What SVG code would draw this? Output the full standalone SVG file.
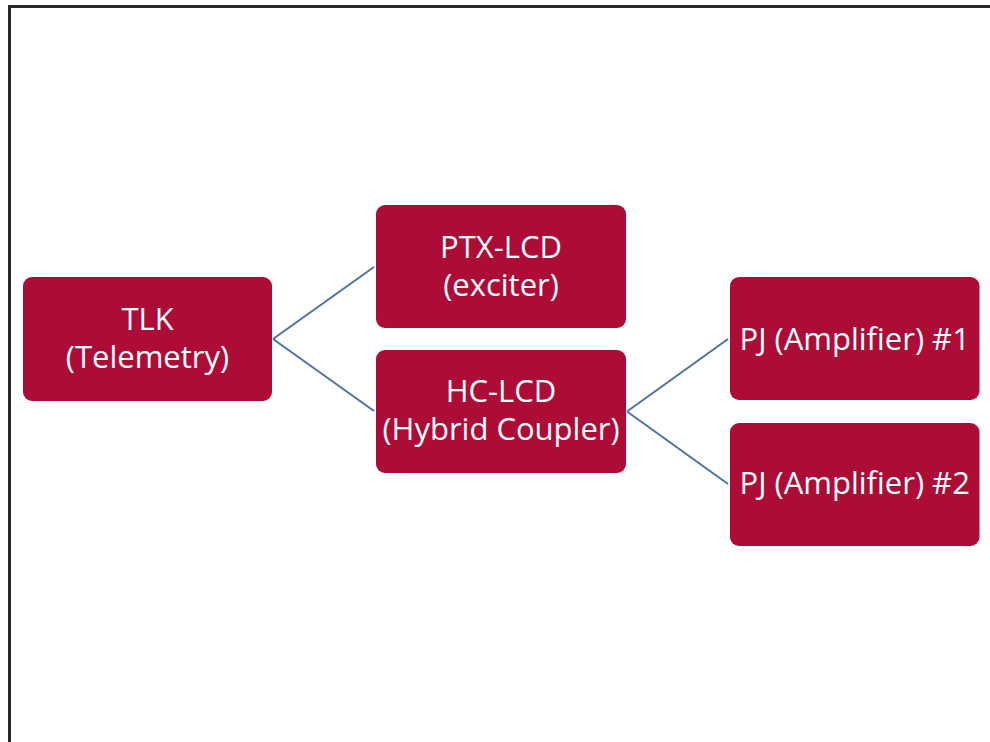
<svg xmlns="http://www.w3.org/2000/svg" width="990" height="742" viewBox="0 0 990 742">
<style>
.node rect{fill:#ad0c36;}
.node text{fill:#ffffff;font-family:"Open Sans","Noto Sans",sans-serif;font-size:31px;text-anchor:middle;}
.conn line{stroke:#4a72a6;stroke-width:2;fill:none;}
.frame{stroke:#2a2627;stroke-width:3;fill:none;}
</style>
<rect x="0" y="0" width="990" height="742" fill="#ffffff"/>
<path class="frame" d="M9.5,742 V6.5 H990"/>
<g id="connectors" class="conn">
<line x1="273" y1="339" x2="374" y2="267"/>
<line x1="273" y1="339" x2="374" y2="411"/>
<line x1="627" y1="411.5" x2="728" y2="339"/>
<line x1="627" y1="411.5" x2="728" y2="484"/>
</g>
<g id="tlk" class="node">
<rect x="23" y="277" width="249" height="124" rx="9"/>
<text x="147.5" y="330">TLK</text>
<text x="147.5" y="368">(Telemetry)</text>
</g>
<g id="ptx" class="node">
<rect x="376" y="205" width="250" height="123" rx="9"/>
<text x="501" y="257.5">PTX-LCD</text>
<text x="501" y="295.5">(exciter)</text>
</g>
<g id="hc" class="node">
<rect x="376" y="350" width="250" height="123" rx="9"/>
<text x="501" y="401.5">HC-LCD</text>
<text x="501" y="440">(Hybrid Coupler)</text>
</g>
<g id="pj1" class="node">
<rect x="730" y="277" width="249.5" height="123" rx="9"/>
<text x="854.7" y="349.5">PJ (Amplifier) #1</text>
</g>
<g id="pj2" class="node">
<rect x="730" y="423" width="249.5" height="123" rx="9"/>
<text x="854.7" y="493.5">PJ (Amplifier) #2</text>
</g>
</svg>
